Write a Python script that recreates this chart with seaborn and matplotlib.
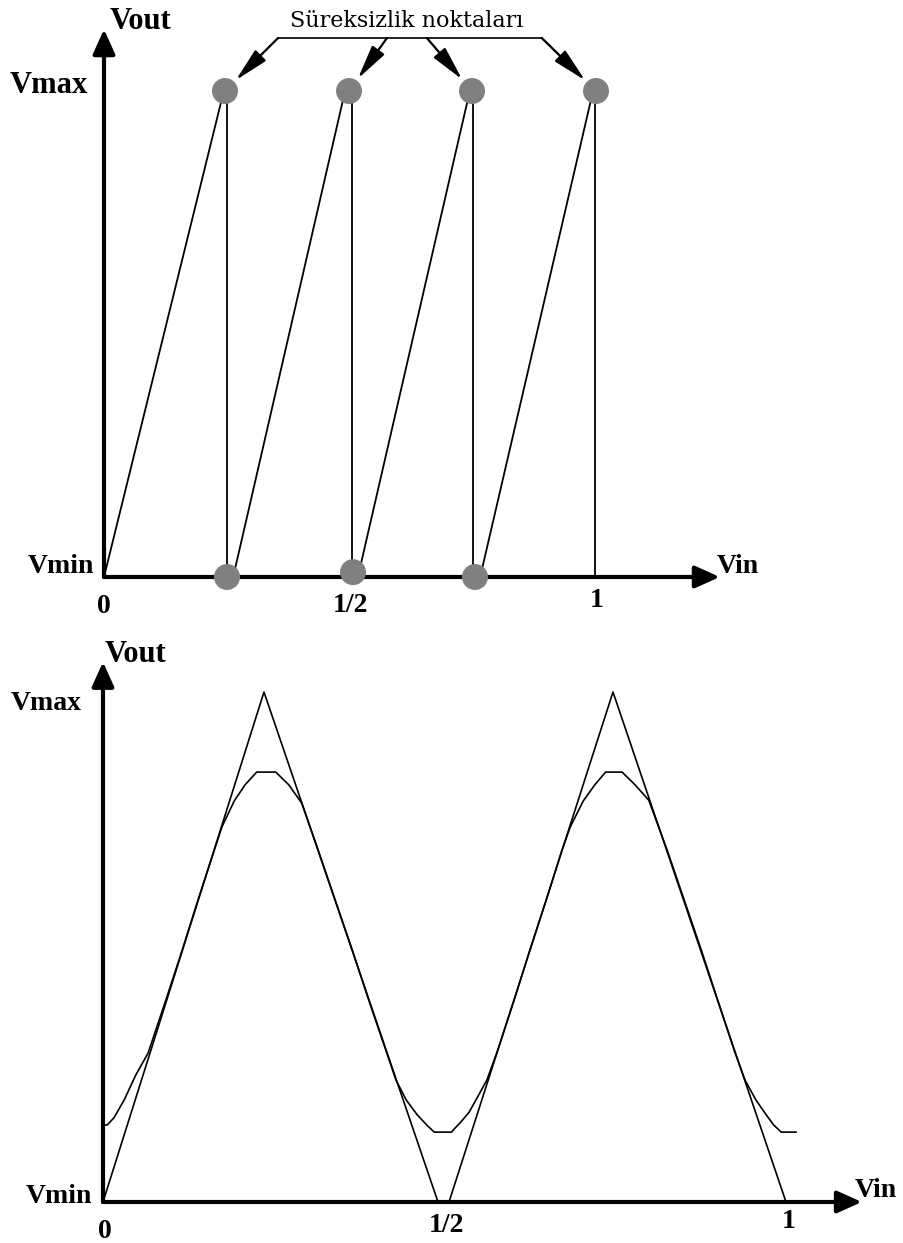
import numpy as np
import pandas as pd
import matplotlib
matplotlib.use("Agg")
import matplotlib.pyplot as plt
import seaborn as sns

# ---------------- data ----------------
# upper panel: sawtooth output (normalised: Vmin = 0, Vmax = 1, Vin from 0 to 1)
ramp_x0 = [0.000, 0.262, 0.515, 0.763]
ramp_x1 = [0.243, 0.489, 0.742, 0.992]
jump_x = [0.2495, 0.503, 0.7485, 0.996]

# discontinuity points
top_dot_x = [0.2454, 0.4970, 0.7465, 0.998]
top_dot_y = [1.0, 1.0, 1.0, 1.0]
bot_dot_x = [0.2495, 0.5051, 0.7525]
bot_dot_y = [0.0, 0.01, 0.0]

# lower panel: triangle output and its rounded (sine-like) version
tri_x = [0.000, 0.2357, 0.4905, 0.5066, 0.7467, 1.000]
tri_y = [0.0, 1.0, 0.0, 0.0, 1.0, 0.0]

sine_x = [0.000, 0.006, 0.016, 0.031, 0.048, 0.066, 0.092, 0.116, 0.139, 0.163,
          0.174, 0.192, 0.208, 0.225, 0.253, 0.272, 0.291, 0.315, 0.340, 0.365,
          0.389, 0.414, 0.429, 0.444, 0.460, 0.474, 0.485, 0.510, 0.524, 0.536,
          0.546, 0.562, 0.578, 0.602, 0.625, 0.649, 0.672, 0.684, 0.703, 0.720,
          0.736, 0.760, 0.779, 0.799, 0.826, 0.851, 0.876, 0.900, 0.924, 0.940,
          0.956, 0.971, 0.982, 0.993, 1.015]
sine_y = [0.151, 0.151, 0.165, 0.200, 0.249, 0.292, 0.396, 0.494, 0.592, 0.690,
          0.735, 0.786, 0.818, 0.843, 0.843, 0.818, 0.782, 0.690, 0.592, 0.494,
          0.396, 0.298, 0.239, 0.200, 0.171, 0.151, 0.137, 0.137, 0.157, 0.176,
          0.200, 0.239, 0.298, 0.396, 0.494, 0.592, 0.690, 0.735, 0.786, 0.818,
          0.843, 0.843, 0.818, 0.788, 0.690, 0.592, 0.494, 0.396, 0.298, 0.239,
          0.200, 0.171, 0.151, 0.137, 0.137]

x_ticks = ["0", "1/2", "1"]
annot_text = "Süreksizlik noktaları"

# ---------------- style ----------------
sns.set_theme(style="white")
plt.rcParams["font.family"] = ["Liberation Serif", "DejaVu Serif"]

LBL = dict(fontsize=20, fontweight="bold", color="black",
           family=["Liberation Serif", "DejaVu Serif"])
BIG = dict(LBL, fontsize=22)
AXIS_ARROW = dict(arrowstyle="-|>,head_length=1.0,head_width=0.45",
                  mutation_scale=15, lw=3, color="black",
                  shrinkA=0, shrinkB=0)

W, H = 904, 1243
fig = plt.figure(figsize=(W / 100, H / 100), dpi=100)
fig.patch.set_facecolor("white")

# ---------------- upper panel ----------------
ax1 = fig.add_axes([0, (H - 625) / H, 1, 625 / H])
ax1.set_xlim(-104 / 493, 800 / 493)
ax1.set_ylim(-48 / 486, 577 / 486)
ax1.set_axis_off()

rows = []
for k in range(4):
    rows += [(2 * k, ramp_x0[k], 0.0), (2 * k, ramp_x1[k], 1.0)]
    rows += [(2 * k + 1, jump_x[k], 1.0), (2 * k + 1, jump_x[k], 0.0)]
saw = pd.DataFrame(rows, columns=["seg", "x", "y"])
sns.lineplot(data=saw, x="x", y="y", units="seg", estimator=None, sort=False,
             color="black", lw=1.3, ax=ax1, legend=False)

dots = pd.DataFrame({"x": top_dot_x + bot_dot_x, "y": top_dot_y + bot_dot_y})
sns.scatterplot(data=dots, x="x", y="y", s=350, color="#808080",
                edgecolor="none", ax=ax1, zorder=5, legend=False)

# axes with arrow heads
ax1.annotate("", xy=(0, 1.127), xytext=(0, 0), arrowprops=AXIS_ARROW, zorder=4)
ax1.annotate("", xy=(1.249, 0), xytext=(0, 0), arrowprops=AXIS_ARROW, zorder=4)

ax1.annotate("Vout", xy=(0, 1.127), xytext=(6, 0), textcoords="offset pixels",
             ha="left", va="baseline", **BIG)
ax1.annotate("Vmax", xy=(0, 1), xytext=(-16, -2), textcoords="offset pixels",
             ha="right", va="baseline", **BIG)
ax1.annotate("Vmin", xy=(0, 0), xytext=(-10, 4), textcoords="offset pixels",
             ha="right", va="baseline", **LBL)
ax1.annotate("Vin", xy=(1.249, 0), xytext=(-3, 4), textcoords="offset pixels",
             ha="left", va="baseline", **LBL)
for xv, lab, dy in zip([0, 0.5, 1], x_ticks, [-36, -35, -30]):
    ax1.annotate(lab, xy=(xv, 0), xytext=(0, dy), textcoords="offset pixels",
                 ha="center", va="baseline", **LBL)

# bracket with arrows pointing at the discontinuities
br_y = 1.109
br_x = [0.353, 0.888]
ax1.plot(br_x, [br_y, br_y], color="black", lw=1.2)
ax1.text(0.6146, 1.131, annot_text, ha="center", va="baseline",
         fontsize=16, family=["DejaVu Serif"], color="black")
arrow_from = [0.353, 0.574, 0.655, 0.888]
for xs, xd in zip(arrow_from, top_dot_x):
    ax1.annotate("", xy=(xd, 1.0), xytext=(xs, br_y),
                 arrowprops=dict(arrowstyle="-|>,head_length=1.5,head_width=0.33",
                                 mutation_scale=14, lw=1.6, color="black",
                                 shrinkA=0, shrinkB=11), zorder=6)

# ---------------- lower panel ----------------
ax2 = fig.add_axes([0, 0, 1, 618 / H])
ax2.set_xlim(-103 / 683, 801 / 683)
ax2.set_ylim(-41 / 510, 577 / 510)
ax2.set_axis_off()

sns.lineplot(x=tri_x, y=tri_y, sort=False, estimator=None, color="black",
             lw=1.2, ax=ax2)
sns.lineplot(x=sine_x, y=sine_y, sort=False, estimator=None, color="black",
             lw=1.2, ax=ax2)

ax2.annotate("", xy=(0, 1.059), xytext=(0, 0), arrowprops=AXIS_ARROW, zorder=4)
ax2.annotate("", xy=(1.111, 0), xytext=(0, 0), arrowprops=AXIS_ARROW, zorder=4)

ax2.annotate("Vout", xy=(0, 1.059), xytext=(2, 0), textcoords="offset pixels",
             ha="left", va="baseline", **BIG)
ax2.annotate("Vmax", xy=(0, 1), xytext=(-21, -18), textcoords="offset pixels",
             ha="right", va="baseline", **LBL)
ax2.annotate("Vmin", xy=(0, 0), xytext=(-11, -1), textcoords="offset pixels",
             ha="right", va="baseline", **LBL)
ax2.annotate("Vin", xy=(1.111, 0), xytext=(-7, 5), textcoords="offset pixels",
             ha="left", va="baseline", **LBL)
for xv, lab, dx, dy in zip([0, 0.5, 1], x_ticks, [2, 2, 3], [-36, -30, -26]):
    ax2.annotate(lab, xy=(xv, 0), xytext=(dx, dy), textcoords="offset pixels",
                 ha="center", va="baseline", **LBL)

fig.savefig("out.png", dpi=100, facecolor="white")
